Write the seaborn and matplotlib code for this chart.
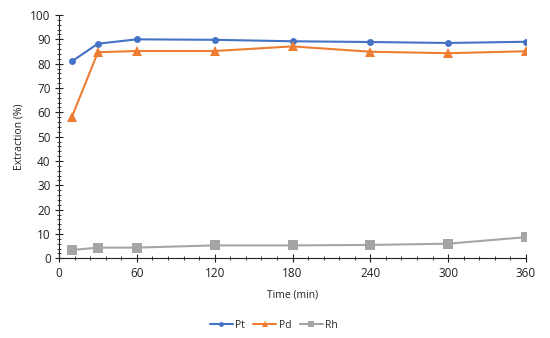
import matplotlib
matplotlib.use("Agg")
import matplotlib.pyplot as plt
from matplotlib.ticker import MultipleLocator
import seaborn as sns
import pandas as pd

time_min = [10, 30, 60, 120, 180, 240, 300, 360]
pt = [81.0, 88.2, 90.0, 89.8, 89.2, 88.9, 88.5, 89.0]
pd_vals = [58.2, 84.7, 85.2, 85.2, 87.1, 84.9, 84.3, 85.1]
rh = [3.4, 4.4, 4.4, 5.3, 5.3, 5.5, 6.0, 8.7]
series = ["Pt", "Pd", "Rh"]
x_ticks = [0, 60, 120, 180, 240, 300, 360]

df = pd.DataFrame({
    "time": time_min * 3,
    "value": pt + pd_vals + rh,
    "metal": ["Pt"] * 8 + ["Pd"] * 8 + ["Rh"] * 8,
})

sns.set_theme(style="white")
plt.rcParams["font.family"] = ["Open Sans", "DejaVu Sans"]

fig = plt.figure(figsize=(5.5, 3.38), dpi=100)
ax = fig.add_axes([59 / 550, 1 - 258.3 / 338, (526 - 59) / 550, (258.3 - 15) / 338])

palette = {"Pt": "#4472C4", "Pd": "#ED7D31", "Rh": "#A5A5A5"}
markers = {"Pt": "o", "Pd": "^", "Rh": "s"}
sizes = {"Pt": 5, "Pd": 7, "Rh": 7}
for m in series:
    sub = df[df.metal == m]
    sns.lineplot(data=sub, x="time", y="value", ax=ax, color=palette[m],
                 marker=markers[m], markersize=sizes[m], markeredgewidth=0,
                 linewidth=1.5, label=m)

ax.set_xlim(0, 360)
ax.set_ylim(0, 100)
ax.set_xticks(x_ticks)
ax.xaxis.set_minor_locator(MultipleLocator(12))
ax.yaxis.set_major_locator(MultipleLocator(10))
ax.yaxis.set_minor_locator(MultipleLocator(2))
for s in ["top", "right"]:
    ax.spines[s].set_visible(False)
for s in ["left", "bottom"]:
    ax.spines[s].set_color("#222222")
    ax.spines[s].set_linewidth(0.8)
ax.tick_params(which="major", direction="inout", length=6, width=0.8, color="#222222",
               labelsize=8.5, labelcolor="#222222", pad=3)
ax.tick_params(which="minor", direction="inout", length=3, width=0.6, color="#222222")
ax.tick_params(axis="x", which="both", bottom=True)
ax.tick_params(axis="y", which="both", left=True)
ax.set_xlabel("Time (min)", fontsize=7.5, color="#222222", labelpad=7)
ax.set_ylabel("Extraction (%)", fontsize=7.5, color="#222222", labelpad=4)

leg = ax.legend(loc="upper center", bbox_to_anchor=(0.46, -0.215), ncol=3, frameon=False,
                fontsize=7.5, handlelength=2.2, columnspacing=0.8, handletextpad=0.25,
                markerscale=0.7)

fig.savefig("out.png", dpi=100)
